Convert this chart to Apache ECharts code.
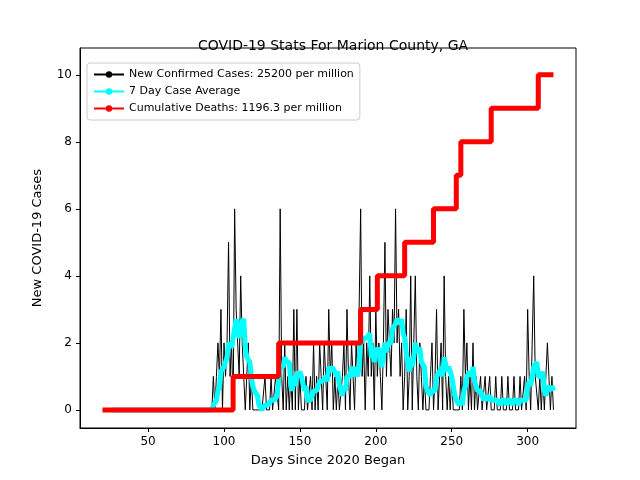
<!DOCTYPE html>
<html style="height: 100%">
<head>
    <meta charset="utf-8">
    <title>COVID-19 Marion County</title>
    <script src="https://cdn.jsdelivr.net/npm/echarts@6/dist/echarts.min.js"></script>
</head>
<body style="height: 100%; margin: 0; background: #fff">
<div id="main" style="width: 640px; height: 480px"></div>
<script type="text/javascript">

    // daily new cases, one value per day starting at day 20
    var firstDay = 20;
    var dailyCases = [
        0,0,0,0,0,0,0,0,0,0, 0,0,0,0,0,0,0,0,0,0,
        0,0,0,0,0,0,0,0,0,0, 0,0,0,0,0,0,0,0,0,0,
        0,0,0,0,0,0,0,0,0,0, 0,0,0,0,0,0,0,0,0,0,
        0,0,0,0,0,0,0,0,0,0, 0,0,
        // day 92
        0,1,0,1,2,1,3,0,2,1, 2,5,1,2,0,6,3,2,1,4,
        2,1,0,1,2,0,1,0,0,0, 0,0,0,0,0,1,0,0,0,1,
        0,0,1,1,0,6,1,0,2,0, 1,0,1,0,3,0,3,0,1,0,
        0,0,1,0,0,1,0,2,0,1, 0,2,1,0,2,1,0,3,1,2,
        0,1,0,1,0,0,1,2,0,3, 1,0,2,1,0,2,1,3,6,1,
        2,0,2,1,4,1,2,0,3,1, 2,1,0,2,5,1,3,2,1,3,
        2,6,2,3,1,2,0,1,3,0, 1,4,0,2,4,1,0,2,1,0,
        1,0,0,0,1,2,0,1,3,0, 1,2,0,4,1,0,1,0,1,0,
        0,0,0,0,1,0,3,1,2,0, 1,0,2,0,1,0,0,1,0,0,
        1,0,0,1,0,0,0,1,0,0, 0,1,0,0,0,1,0,0,0,1,
        0,0,0,1,0,0,1,0,3,1, 0,0,4,1,1,0,1,0,1,0,
        0,2,1,0,1,0
    ];

    // cumulative deaths: day at which each new level starts
    var deathDays = [20, 106, 136, 190, 201, 219, 238, 253, 256, 276, 307, 317];
    var deathVals = [0, 1, 2, 3, 4, 5, 6, 7, 8, 9, 10, 10];

    var xTicks = [50, 100, 150, 200, 250, 300];
    var yTicks = [0, 2, 4, 6, 8, 10];

    var casePts = [], avgPts = [], deathPts = [];
    for (var i = 0; i < dailyCases.length; i++) {
        casePts.push([firstDay + i, dailyCases[i]]);
        if (i >= 6) {
            var s = 0;
            for (var k = i - 6; k <= i; k++) s += dailyCases[k];
            avgPts.push([firstDay + i, s / 7]);
        }
    }
    for (var j = 0; j < deathDays.length; j++) {
        deathPts.push([deathDays[j], deathVals[j]]);
    }

    var myChart = echarts.init(document.getElementById('main'));

    var axisText = { color: '#000', fontSize: 12, fontFamily: 'DejaVu Sans' };

    var option = {
        backgroundColor: '#fff',
        animation: false,
        title: {
            text: 'COVID-19 Stats For Marion County, GA',
            left: 328, top: 34, textAlign: 'center',
            textStyle: { fontSize: 14, fontWeight: 'normal', color: '#000', fontFamily: 'DejaVu Sans' }
        },
        legend: {
            orient: 'vertical',
            left: 87, top: 63,
            itemWidth: 30, itemHeight: 8, itemGap: 6,
            padding: [6, 6, 6, 6],
            backgroundColor: '#fff',
            borderColor: '#ccc', borderWidth: 1, borderRadius: 3,
            textStyle: { fontSize: 11, color: '#000', fontFamily: 'DejaVu Sans' },
            data: ['New Confirmed Cases: 25200 per million', '7 Day Case Average', 'Cumulative Deaths: 1196.3 per million']
        },
        grid: { left: 80, right: 64, top: 48, bottom: 52, show: true, borderColor: '#000', borderWidth: 1, backgroundColor: 'transparent' },
        xAxis: {
            type: 'value', min: 5.15, max: 331.85,
            name: 'Days Since 2020 Began', nameLocation: 'middle', nameGap: 26,
            nameTextStyle: { color: '#000', fontSize: 13, fontFamily: 'DejaVu Sans' },
            axisLine: { onZero: false, lineStyle: { color: '#000' } },
            axisTick: { customValues: xTicks, length: 4, lineStyle: { color: '#000' } },
            axisLabel: Object.assign({ customValues: xTicks, margin: 8 }, axisText),
            splitLine: { show: false }
        },
        yAxis: {
            type: 'value', min: -0.54, max: 10.8,
            name: 'New COVID-19 Cases', nameLocation: 'middle', nameGap: 36,
            nameTextStyle: { color: '#000', fontSize: 13, fontFamily: 'DejaVu Sans' },
            axisLine: { show: true, lineStyle: { color: '#000' } },
            axisTick: { show: true, customValues: yTicks, length: 4, lineStyle: { color: '#000' } },
            axisLabel: Object.assign({ customValues: yTicks, margin: 8 }, axisText),
            splitLine: { show: false }
        },
        series: [
            {
                name: 'New Confirmed Cases: 25200 per million',
                type: 'line', data: casePts, symbol: 'none',
                lineStyle: { color: '#000', width: 1 }, itemStyle: { color: '#000' }
            },
            {
                name: '7 Day Case Average',
                type: 'line', data: avgPts, symbol: 'none',
                lineStyle: { color: '#00ffff', width: 5 }, itemStyle: { color: '#00ffff' }
            },
            {
                name: 'Cumulative Deaths: 1196.3 per million',
                type: 'line', step: 'end', data: deathPts, symbol: 'none',
                lineStyle: { color: '#ff0000', width: 5 }, itemStyle: { color: '#ff0000' }
            }
        ]
    };

    myChart.setOption(option);
</script>
</body>
</html>
